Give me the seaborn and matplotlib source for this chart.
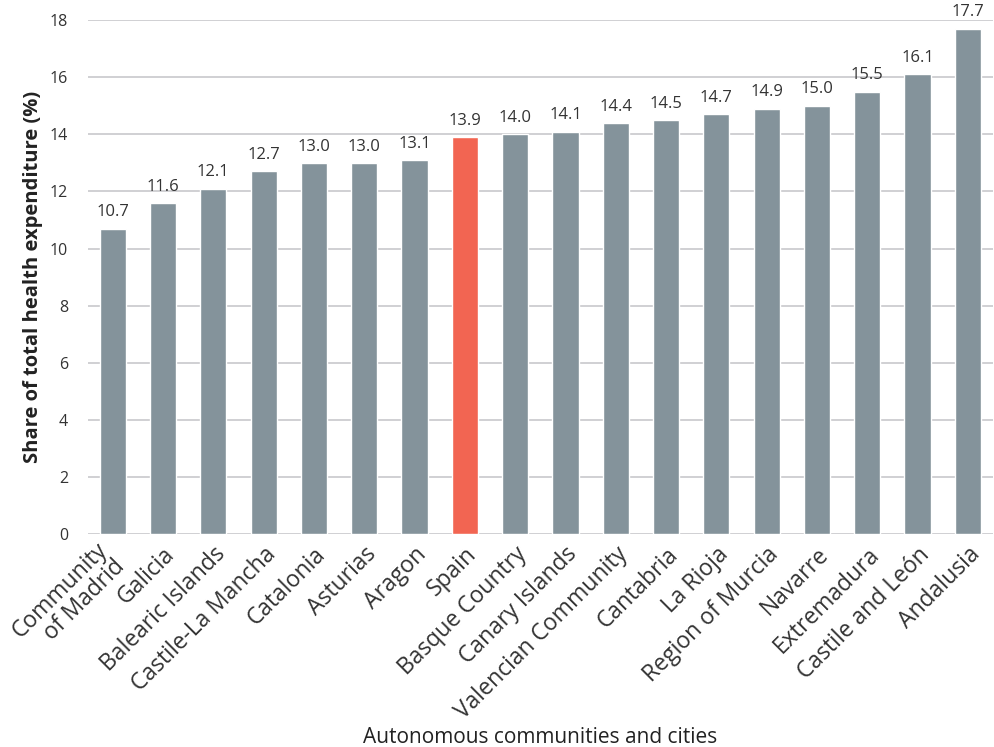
import matplotlib
matplotlib.use("Agg")
import matplotlib.pyplot as plt
import seaborn as sns
import pandas as pd

# Values
regions = ["Community\nof Madrid", "Galicia", "Balearic Islands", "Castile-La Mancha",
           "Catalonia", "Asturias", "Aragon", "Spain", "Basque Country", "Canary Islands",
           "Valencian Community", "Cantabria", "La Rioja", "Region of Murcia", "Navarre",
           "Extremadura", "Castile and León", "Andalusia"]
shares = [10.7, 11.6, 12.1, 12.7, 13.0, 13.0, 13.1, 13.9, 14.0, 14.1,
          14.4, 14.5, 14.7, 14.9, 15.0, 15.5, 16.1, 17.7]

grey = "#84939b"
red = "#f26552"

df = pd.DataFrame({"region": regions, "share": shares})
palette = {r: (red if r == "Spain" else grey) for r in regions}

sns.set_style("white")
plt.rcParams["font.family"] = ["Open Sans", "DejaVu Sans"]

fig, ax = plt.subplots(figsize=(9.95, 7.47), dpi=100)
fig.subplots_adjust(left=0.088, right=0.998, top=0.973, bottom=0.285)

sns.barplot(data=df, x="region", y="share", hue="region", palette=palette,
            saturation=1, width=0.52, legend=False, ax=ax, zorder=3)

for p, v in zip(ax.patches, shares):
    ax.annotate(f"{v:.1f}", (p.get_x() + p.get_width() / 2, p.get_height()),
                xytext=(0, 6), textcoords="offset points", ha="center", va="bottom",
                fontsize=12, color="#333333")

ax.set_ylim(0, 18)
ax.set_yticks(range(0, 19, 2))
ax.set_xlim(-0.5, len(regions) - 0.5)
ax.yaxis.grid(True, color="#c8c8cc", linewidth=1.2, zorder=0)
ax.set_axisbelow(True)
sns.despine(ax=ax, left=True, bottom=True)
ax.tick_params(axis="both", length=0, labelsize=11.5, colors="#333333")
ax.tick_params(axis="y", pad=14)
ax.tick_params(axis="x", pad=6)

plt.setp(ax.get_xticklabels(), rotation=45, ha="right", rotation_mode="anchor",
         fontsize=16.5, linespacing=1.0)
# the two-line label sits centred a little below its tick
madrid = ax.get_xticklabels()[0]
madrid.set_va("center")
madrid.set_y(-0.024)

ax.set_ylabel("Share of total health expenditure (%)", fontsize=14.5,
              fontweight="bold", color="#222222", labelpad=5)
ax.set_xlabel("Autonomous communities and cities", fontsize=15, color="#222222")
ax.xaxis.set_label_coords(0.5, -0.376)

fig.savefig("out.png", dpi=100)
